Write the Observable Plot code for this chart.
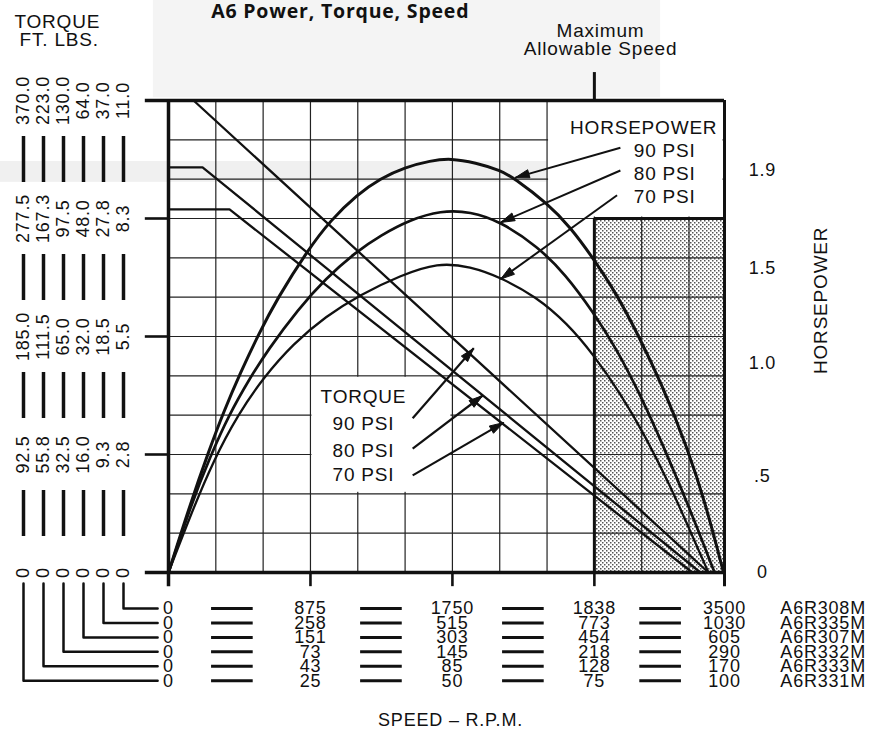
<!DOCTYPE html>
<html><head><meta charset="utf-8">
<script src="https://cdn.jsdelivr.net/npm/d3@7"></script>
<script src="https://cdn.jsdelivr.net/npm/@observablehq/plot@0.6"></script>
<style>
body{margin:0;background:#fff}
#chart svg text{letter-spacing:0.8px}
</style>
</head><body><div id="chart"></div>
<script>
// ---------- DATA ----------
// Torque scale labels (ft. lbs.) — one column per motor, left to right, at grid levels 0,3,6,9,12
const torqueLabels = [
  ["0", "92.5", "185.0", "277.5", "370.0"],
  ["0", "55.8", "111.5", "167.3", "223.0"],
  ["0", "32.5", "65.0", "97.5", "130.0"],
  ["0", "16.0", "32.0", "48.0", "64.0"],
  ["0", "9.3", "18.5", "27.8", "37.0"],
  ["0", "2.8", "5.5", "8.3", "11.0"]
];
const torqueTickLevels = [0, 3, 6, 9, 12];

// Speed scale labels (R.P.M.) per motor model
const motorModels = ["A6R308M", "A6R335M", "A6R307M", "A6R332M", "A6R333M", "A6R331M"];
const speedLabels = [
  ["0", "875", "1750", "1838", "3500"],
  ["0", "258", "515", "773", "1030"],
  ["0", "151", "303", "454", "605"],
  ["0", "73", "145", "218", "290"],
  ["0", "43", "85", "128", "170"],
  ["0", "25", "50", "75", "100"]
];
const speedTickLevels = [0, 3, 6, 9, 11.75];

// Horsepower scale labels (right side)
const hpLabels = ["0", ".5", "1.0", "1.5", "1.9"];
const hpTickLevels = [0, 2.44, 5.31, 7.73, 10.22];

const pressures = ["90 PSI", "80 PSI", "70 PSI"];

// Curves in chart grid units [speed, level]
const torque90 = [[0, 12], [0.53, 12], [11.41, 0]];
const torque80 = [[0, 10.30], [0.72, 10.30], [11.24, 0]];
const torque70 = [[0, 9.23], [1.29, 9.23], [11.07, 0]];

const hp90 = [[0,0],[0.47,1.78],[0.85,3.08],[1.16,4.07],[1.52,5.08],[1.90,6.05],[2.30,6.97],[2.94,8.19],[3.42,8.95],[3.99,9.61],[4.48,10.02],[4.99,10.30],[5.54,10.47],[5.96,10.53],[6.49,10.42],[7.02,10.22],[7.29,10.04],[8.01,9.38],[8.50,8.77],[8.98,7.98],[9.45,7.12],[9.91,6.08],[10.44,4.75],[10.97,3.15],[11.35,1.75],[11.73,0]];
const hp80 = [[0,0],[0.47,1.70],[0.89,2.97],[1.27,3.99],[1.73,4.96],[2.09,5.64],[2.75,6.71],[3.32,7.47],[3.95,8.14],[4.48,8.57],[5.11,8.97],[5.75,9.20],[6.38,9.18],[7.02,8.92],[7.80,8.29],[8.39,7.58],[8.98,6.61],[9.45,5.72],[9.98,4.50],[10.50,3.10],[11.03,1.58],[11.54,0]];
const hp70 = [[0,0],[0.47,1.47],[0.95,2.85],[1.48,4.04],[2.01,4.96],[2.64,5.82],[3.32,6.51],[4.06,7.07],[4.90,7.55],[5.69,7.88],[6.38,7.78],[7.02,7.50],[7.76,7.02],[8.43,6.33],[8.98,5.54],[9.55,4.55],[10.08,3.46],[10.61,2.19],[11.14,0.74],[11.41,0]];

// Arrows [tail → tip] for the legends
const hpArrows = [[9.55, 10.80, 7.33, 10.04], [9.55, 10.22, 7.02, 8.90], [9.48, 9.59, 7.02, 7.46]];
const torqueArrows = [[5.16, 3.92, 6.45, 5.70], [5.16, 3.15, 6.64, 4.50], [5.16, 2.47, 7.08, 3.81]];

// ---------- LAYOUT ----------
const XMAX = 11.75, YMAX = 12;
const XR = [168, 724], YR = [572, 100];
const KX = (XR[1] - XR[0]) / XMAX, KY = (YR[0] - YR[1]) / YMAX;
const FONT = "'Liberation Sans', Arial, Helvetica, sans-serif";
const INK = "#111";

const toRows = (pts, name) => pts.map(([x, y]) => ({x, y, name}));

// left torque columns
const colX = torqueLabels.map((_, i) => (23 + 20 * i - XR[0]) / KX);
const rowY = motorModels.map((_, r) => (YR[0] - (608 + 14.45 * r)) / KY);

const torqueText = torqueLabels.flatMap((col, i) => col.map((t, k) => ({x: colX[i], y: torqueTickLevels[k], t})));
const torqueBars = colX.flatMap(x => [1.5, 4.5, 7.5, 10.5].map(c => ({x, y1: c - 0.585, y2: c + 0.585})));
const leaders = colX.flatMap((x, i) => {
  const y = rowY[motorModels.length - 1 - i];
  return [{id: i, x, y: -0.28}, {id: i, x, y}, {id: i, x: -0.23, y}];
});

const speedText = speedLabels.flatMap((row, r) => row.map((t, c) => ({x: speedTickLevels[c], y: rowY[r], t})));
const dashCenters = [1.35, 4.5, 7.5, 10.4];
const speedDashes = rowY.flatMap(y => dashCenters.map(m => ({y, x1: m - 0.44, x2: m + 0.44})));
const modelText = motorModels.map((t, r) => ({x: 12.93, y: rowY[r], t}));

const hpText = hpLabels.map((t, k) => ({x: 12.55, y: hpTickLevels[k], t}));

// arrowheads as filled triangles (computed in screen space)
function heads(arrows) {
  return arrows.flatMap(([x1, y1, x2, y2], id) => {
    const dx = (x2 - x1) * KX, dy = -(y2 - y1) * KY;
    const len = Math.hypot(dx, dy), ux = dx / len, uy = dy / len;
    const L = 14, W = 4.2;
    const bx = -ux * L, by = -uy * L;
    const p1 = [bx - uy * W, by + ux * W], p2 = [bx + uy * W, by - ux * W];
    return [
      {id, x: x2, y: y2},
      {id, x: x2 + p1[0] / KX, y: y2 - p1[1] / KY},
      {id, x: x2 + p2[0] / KX, y: y2 - p2[1] / KY},
      {id, x: x2, y: y2}
    ];
  });
}
const arrowRows = a => a.map(([x1, y1, x2, y2]) => ({x1, y1, x2, y2}));

const gridU = d3.range(1, 12);
const gridV = d3.range(1, 12);

const txt = (data, o) => Plot.text(data, {x: "x", y: "y", text: "t", fill: INK, fontSize: 18, lineAnchor: "middle", ...o});

const svg = Plot.plot({
  width: 873,
  height: 754,
  x: {domain: [0, XMAX], range: XR, axis: null},
  y: {domain: [0, YMAX], range: YR, axis: null},
  style: {fontFamily: FONT, background: "#fff", color: INK, overflow: "visible"},
  marks: [
    // faint scan tones
    Plot.rect([0], {x1: -0.32, x2: 10.4, y1: 12.07, y2: 14.6, fill: "#f4f4f4"}),
    Plot.rect([0], {x1: -3.6, x2: 8, y1: 9.92, y2: 10.45, fill: "#f0f0f0"}),
    // shaded region beyond maximum allowable speed
    Plot.rect([0], {x1: 9, x2: XMAX, y1: 0, y2: 9, fill: "#d5d5d5"}),
    // grid
    Plot.ruleX(gridU, {y1: 0, y2: YMAX, stroke: "#222", strokeWidth: 1.2}),
    Plot.ruleY(gridV, {x1: 0, x2: XMAX, stroke: "#222", strokeWidth: 1.2}),
    // label boxes (blank grid)
    Plot.rect([0], {x1: 3, x2: 6, y1: 2, y2: 5, fill: "#fff", inset: 1.5}),
    Plot.rect([0], {x1: 8, x2: XMAX, y1: 9, y2: YMAX, fill: "#fff", inset: 1.5}),
    // frame
    Plot.ruleY([YMAX], {x1: -0.49, x2: XMAX, stroke: INK, strokeWidth: 3.5}),
    Plot.ruleY([0], {x1: -0.49, x2: XMAX, stroke: INK, strokeWidth: 3.5}),
    Plot.ruleX([0], {y1: -0.36, y2: YMAX, stroke: INK, strokeWidth: 3.5}),
    Plot.ruleX([XMAX], {y1: -0.36, y2: YMAX, stroke: INK, strokeWidth: 3}),
    Plot.ruleY(torqueTickLevels.slice(1, -1), {x1: -0.49, x2: 0, stroke: INK, strokeWidth: 2.6}),
    Plot.ruleX(speedTickLevels.slice(1, -1), {y1: -0.36, y2: 0, stroke: INK, strokeWidth: 2.6}),
    Plot.ruleX([9], {y1: 0, y2: 9, stroke: INK, strokeWidth: 3}),
    Plot.ruleY([9], {x1: 9, x2: XMAX, stroke: INK, strokeWidth: 3}),
    Plot.ruleX([9], {y1: YMAX, y2: 12.71, stroke: INK, strokeWidth: 3}),
    // torque lines
    ...[torque90, torque80, torque70].map((c, i) =>
      Plot.line(toRows(c, pressures[i]), {x: "x", y: "y", stroke: INK, strokeWidth: 2.3})),
    // horsepower curves
    ...[hp90, hp80, hp70].map((c, i) =>
      Plot.line(toRows(c, pressures[i]), {x: "x", y: "y", curve: "basis", stroke: INK, strokeWidth: [3, 2.7, 2.3][i]})),
    // arrows
    Plot.link(arrowRows(hpArrows), {x1: "x1", y1: "y1", x2: "x2", y2: "y2", stroke: INK, strokeWidth: 2}),
    Plot.link(arrowRows(torqueArrows), {x1: "x1", y1: "y1", x2: "x2", y2: "y2", stroke: INK, strokeWidth: 2.2}),
    Plot.line(heads(hpArrows), {x: "x", y: "y", z: "id", fill: INK, stroke: INK, strokeWidth: 1}),
    Plot.line(heads(torqueArrows), {x: "x", y: "y", z: "id", fill: INK, stroke: INK, strokeWidth: 1}),
    // left torque scales
    txt(torqueText, {rotate: -90, textAnchor: "middle"}),
    Plot.ruleX(torqueBars, {x: "x", y1: "y1", y2: "y2", stroke: INK, strokeWidth: 3.5}),
    Plot.line(leaders, {x: "x", y: "y", z: "id", stroke: INK, strokeWidth: 2.5}),
    // bottom speed scales
    txt(speedText, {textAnchor: "middle"}),
    Plot.ruleY(speedDashes, {y: "y", x1: "x1", x2: "x2", stroke: INK, strokeWidth: 3}),
    txt(modelText, {textAnchor: "start"}),
    // right horsepower scale
    txt(hpText, {textAnchor: "middle"}),
    // titles & labels
    Plot.text(["A6 Power, Torque, Speed"], {x: 3.63, y: 14.26, text: d => d, fontFamily: "'Open Sans', sans-serif", fontWeight: "bold", fontSize: 19.5, fill: INK, lineAnchor: "middle"}),
    txt([{x: -2.35, y: 14.01, t: "TORQUE"}, {x: -2.31, y: 13.53, t: "FT. LBS."}], {textAnchor: "middle", fontSize: 19}),
    txt([{x: 9.13, y: 13.78, t: "Maximum"}, {x: 9.13, y: 13.32, t: "Allowable Speed"}], {textAnchor: "middle", fontSize: 19}),
    txt([{x: 11.6, y: 11.31, t: "HORSEPOWER"}, ...pressures.map((t, i) => ({x: 11.14, y: [10.73, 10.14, 9.56][i], t}))], {textAnchor: "end", fontSize: 19}),
    txt([{x: 4.12, y: 4.47, t: "TORQUE"}, ...pressures.map((t, i) => ({x: 4.12, y: [3.79, 3.10, 2.49][i], t}))], {textAnchor: "middle", fontSize: 19}),
    txt([{x: 13.78, y: 6.92, t: "HORSEPOWER"}], {textAnchor: "middle", rotate: -90, fontSize: 19}),
    txt([{x: 5.96, y: -3.76, t: "SPEED – R.P.M."}], {textAnchor: "middle", fontSize: 18})
  ]
});

// stipple pattern for the shaded region
const defs = d3.select(svg).insert("defs", ":first-child");
const pat = defs.append("pattern").attr("id", "stipple").attr("patternUnits", "userSpaceOnUse").attr("width", 4).attr("height", 4);
pat.append("rect").attr("width", 4).attr("height", 4).attr("fill", "#fff");
pat.append("rect").attr("x", 0).attr("y", 0).attr("width", 1.5).attr("height", 1.5).attr("fill", "#555");
pat.append("rect").attr("x", 2).attr("y", 2).attr("width", 1.5).attr("height", 1.5).attr("fill", "#555");
svg.querySelectorAll('[fill="#d5d5d5"]').forEach(el => el.setAttribute("fill", "url(#stipple)"));

document.getElementById("chart").append(svg);
</script></body></html>
